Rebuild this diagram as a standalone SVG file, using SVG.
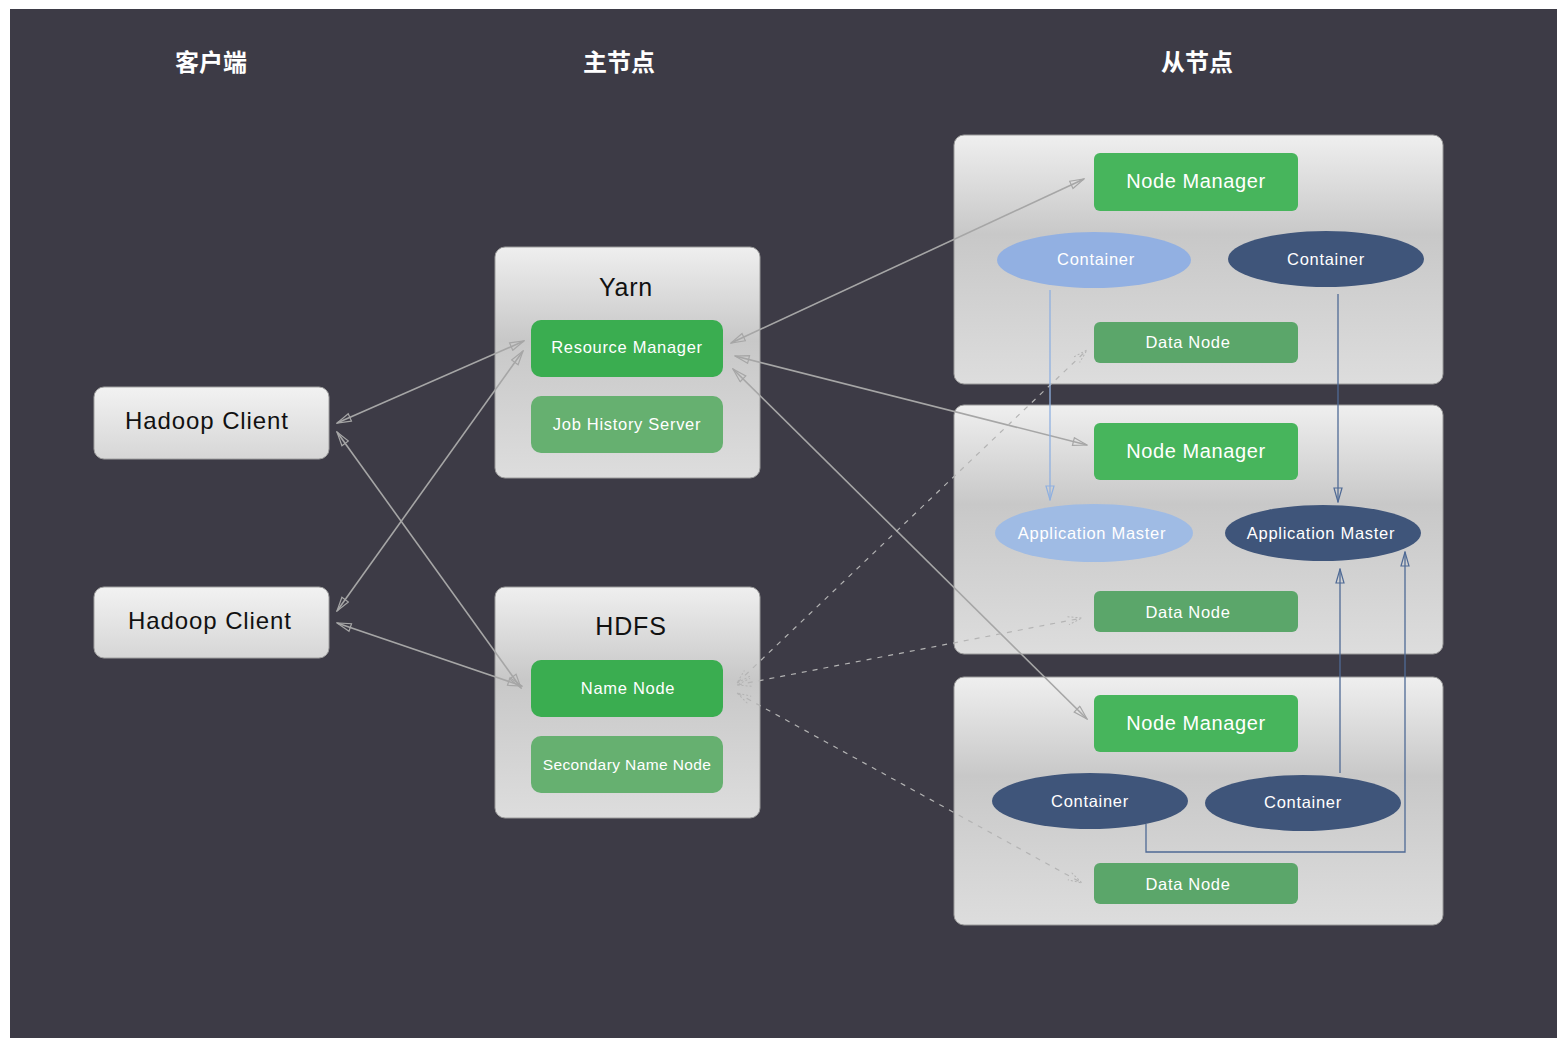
<svg xmlns="http://www.w3.org/2000/svg" width="1557" height="1038" viewBox="0 0 1557 1038">
<defs>
<linearGradient id="gBox" x1="0" y1="0" x2="0" y2="1">
<stop offset="0" stop-color="#efefef"/>
<stop offset="0.4" stop-color="#c8c8c8"/>
<stop offset="1" stop-color="#dddddd"/>
</linearGradient>
<linearGradient id="gClient" x1="0" y1="0" x2="0" y2="1">
<stop offset="0" stop-color="#f2f2f2"/>
<stop offset="1" stop-color="#d6d6d6"/>
</linearGradient>
<marker id="aG" viewBox="0 0 16 10" refX="15" refY="5" markerWidth="16" markerHeight="10" markerUnits="userSpaceOnUse" orient="auto-start-reverse">
<path d="M1,1 L15,5 L1,9 Z" fill="none" stroke="#a6a6a6" stroke-width="1.2"/>
</marker>
<marker id="aD" viewBox="0 0 16 10" refX="15" refY="5" markerWidth="16" markerHeight="10" markerUnits="userSpaceOnUse" orient="auto-start-reverse">
<path d="M1,1 L15,5 L1,9" fill="none" stroke="#b4b4b4" stroke-width="1" stroke-dasharray="2,2"/>
</marker>
<marker id="aL" viewBox="0 0 16 10" refX="15" refY="5" markerWidth="16" markerHeight="10" markerUnits="userSpaceOnUse" orient="auto">
<path d="M1,1 L15,5 L1,9 Z" fill="none" stroke="#8fb0e0" stroke-width="1.2"/>
</marker>
<marker id="aB" viewBox="0 0 16 10" refX="15" refY="5" markerWidth="16" markerHeight="10" markerUnits="userSpaceOnUse" orient="auto">
<path d="M1,1 L15,5 L1,9 Z" fill="none" stroke="#4f6a95" stroke-width="1.2"/>
</marker>
</defs>
<style>
.hdr{font-family:"Noto Sans CJK SC","Noto Sans",sans-serif;font-size:24px;font-weight:bold;fill:#ffffff;text-anchor:middle}
.big{fill:url(#gBox);stroke:#9a9a9a;stroke-width:1}
.cli{fill:url(#gClient);stroke:#a0a0a0;stroke-width:1}
.title{font-family:"Liberation Sans",Arial,sans-serif;font-size:25px;letter-spacing:0.8px;fill:#111111;text-anchor:middle}
.ctext{font-family:"Liberation Sans",Arial,sans-serif;font-size:24px;letter-spacing:0.9px;fill:#111111;text-anchor:middle}
.g1{fill:#3aad50}
.g2{fill:#66b070}
.nm{fill:#47b55c}
.dn{fill:#5ba66a}
.eL{fill:#92b0e2}
.eD{fill:#3f557a}
.wt{font-family:"Liberation Sans",Arial,sans-serif;font-size:16.5px;letter-spacing:0.7px;fill:#ffffff;text-anchor:middle}
.wt19{font-family:"Liberation Sans",Arial,sans-serif;font-size:20px;letter-spacing:0.6px;fill:#ffffff;text-anchor:middle}
.gl{stroke:#a6a6a6;stroke-width:1.6;fill:none;marker-start:url(#aG);marker-end:url(#aG)}
.dl{stroke:#b4b4b4;stroke-width:1.2;fill:none;stroke-dasharray:5,6;marker-start:url(#aD);marker-end:url(#aD)}
</style>
<rect x="0" y="0" width="1557" height="1038" fill="#ffffff"/>
<rect x="10" y="9" width="1547" height="1029" fill="#3d3b46"/>

<g id="headers">
<text class="hdr" x="211" y="71">客户端</text>
<text class="hdr" x="619" y="71">主节点</text>
<text class="hdr" x="1197" y="71">从节点</text>
</g>

<g id="client1">
<rect class="cli" x="94" y="387" width="235" height="72" rx="10"/>
<text class="ctext" x="207" y="429">Hadoop Client</text>
</g>
<g id="client2">
<rect class="cli" x="94" y="587" width="235" height="71" rx="10"/>
<text class="ctext" x="210" y="629">Hadoop Client</text>
</g>

<g id="yarn">
<rect class="big" x="495" y="247" width="265" height="231" rx="10"/>
<text class="title" x="626" y="296">Yarn</text>
<g id="resource-manager">
<rect class="g1" x="531" y="320" width="192" height="57" rx="10"/>
<text class="wt" x="627" y="353">Resource Manager</text>
</g>
<g id="job-history-server">
<rect class="g2" x="531" y="396" width="192" height="57" rx="10"/>
<text class="wt" x="627" y="430">Job History Server</text>
</g>
</g>

<g id="hdfs">
<rect class="big" x="495" y="587" width="265" height="231" rx="10"/>
<text class="title" x="631" y="635">HDFS</text>
<g id="name-node">
<rect class="g1" x="531" y="660" width="192" height="57" rx="10"/>
<text class="wt" x="628" y="694">Name Node</text>
</g>
<g id="secondary-name-node">
<rect class="g2" x="531" y="736" width="192" height="57" rx="10"/>
<text class="wt" x="627" y="770" style="font-size:15.5px;letter-spacing:0.4px">Secondary Name Node</text>
</g>
</g>

<g id="slave1">
<rect class="big" x="954" y="135" width="489" height="249" rx="10"/>
<g id="nm1">
<rect class="nm" x="1094" y="153" width="204" height="58" rx="6"/>
<text class="wt19" x="1196" y="188">Node Manager</text>
</g>
<g id="c1a">
<ellipse class="eL" cx="1094" cy="260" rx="97" ry="28"/>
<text class="wt" x="1096" y="265">Container</text>
</g>
<g id="c1b">
<ellipse class="eD" cx="1326" cy="259" rx="98" ry="28"/>
<text class="wt" x="1326" y="265">Container</text>
</g>
<g id="dn1">
<rect class="dn" x="1094" y="322" width="204" height="41" rx="6"/>
<text class="wt" x="1188" y="348">Data Node</text>
</g>
</g>

<g id="slave2">
<rect class="big" x="954" y="405" width="489" height="249" rx="10"/>
<g id="nm2">
<rect class="nm" x="1094" y="423" width="204" height="57" rx="6"/>
<text class="wt19" x="1196" y="458">Node Manager</text>
</g>
<g id="am2a">
<ellipse fill="#9fbbe4" cx="1094" cy="533" rx="99" ry="29"/>
<text class="wt" x="1092" y="539">Application Master</text>
</g>
<g id="am2b">
<ellipse class="eD" cx="1323" cy="533" rx="98" ry="28"/>
<text class="wt" x="1321" y="539">Application Master</text>
</g>
<g id="dn2">
<rect class="dn" x="1094" y="591" width="204" height="41" rx="6"/>
<text class="wt" x="1188" y="618">Data Node</text>
</g>
</g>

<g id="slave3">
<rect class="big" x="954" y="677" width="489" height="248" rx="10"/>
<g id="nm3">
<rect class="nm" x="1094" y="695" width="204" height="57" rx="6"/>
<text class="wt19" x="1196" y="730">Node Manager</text>
</g>
<g id="c3a">
<ellipse class="eD" cx="1090" cy="801" rx="98" ry="28"/>
<text class="wt" x="1090" y="807">Container</text>
</g>
<g id="c3b">
<ellipse class="eD" cx="1303" cy="803" rx="98" ry="28"/>
<text class="wt" x="1303" y="808">Container</text>
</g>
<g id="dn3">
<rect class="dn" x="1094" y="863" width="204" height="41" rx="6"/>
<text class="wt" x="1188" y="890">Data Node</text>
</g>
</g>

<g id="connectors">
<line class="gl" x1="337" y1="423" x2="524" y2="341"/>
<line class="gl" x1="337" y1="432" x2="521" y2="688"/>
<line class="gl" x1="337" y1="611" x2="523" y2="351"/>
<line class="gl" x1="337" y1="623" x2="522" y2="686"/>
<line class="gl" x1="731" y1="343" x2="1084" y2="179"/>
<line class="gl" x1="735" y1="356" x2="1087" y2="445"/>
<line class="gl" x1="733" y1="369" x2="1087" y2="719"/>
<line class="dl" x1="737" y1="683" x2="1087" y2="350"/>
<line class="dl" x1="737" y1="685" x2="1082" y2="618"/>
<line class="dl" x1="737" y1="693" x2="1082" y2="883"/>
<line x1="1050" y1="290" x2="1050" y2="500" stroke="#8fb0e0" stroke-width="1.3" marker-end="url(#aL)"/>
<line x1="1338" y1="294" x2="1338" y2="502" stroke="#4f6a95" stroke-width="1.3" marker-end="url(#aB)"/>
<line x1="1340" y1="773" x2="1340" y2="569" stroke="#4f6a95" stroke-width="1.3" marker-end="url(#aB)"/>
<polyline points="1146,824 1146,852 1405,852 1405,552" fill="none" stroke="#4f6a95" stroke-width="1.3" marker-end="url(#aB)"/>
</g>
</svg>
